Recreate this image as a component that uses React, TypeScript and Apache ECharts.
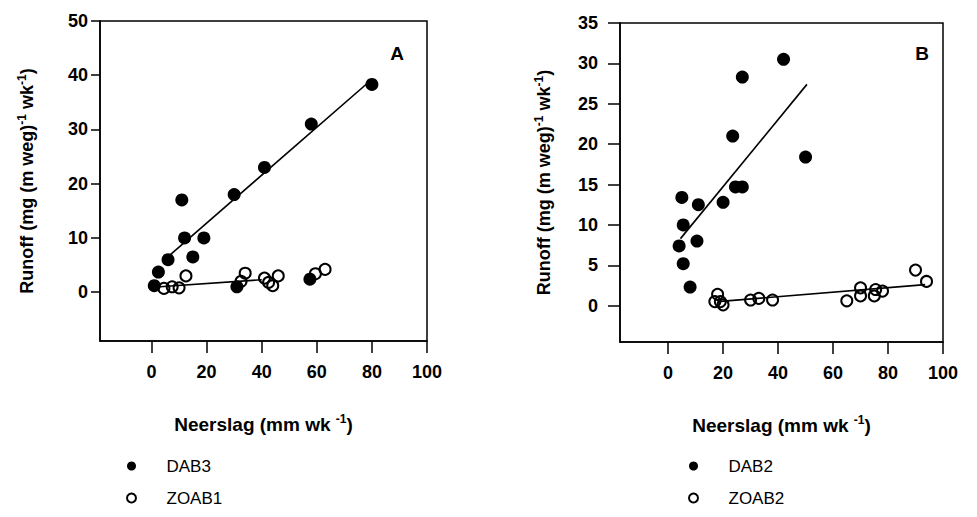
import React, { useEffect, useRef } from 'react';
import * as echarts from 'echarts';

// ---- tick labels ----
const xTicks = [0, 20, 40, 60, 80, 100];
const yTicksA = [0, 10, 20, 30, 40, 50];
const yTicksB = [0, 5, 10, 15, 20, 25, 30, 35];

// ---- panel A ----
const dab3X = [1, 2.5, 6, 11, 12, 15, 19, 30, 31, 41, 57.5, 58, 80];
const dab3Y = [1.2, 3.7, 6.0, 17, 10, 6.5, 10, 18, 1.0, 23, 2.4, 31, 38.3];
const zoab1X = [4.5, 7.5, 10, 12.5, 32.5, 34, 41, 42.5, 44, 46, 59.5, 63];
const zoab1Y = [0.7, 1.0, 0.8, 3.0, 2.0, 3.5, 2.6, 1.8, 1.2, 3.0, 3.4, 4.2];
const fitDab3X = [5, 79];
const fitDab3Y = [6.1, 38.8];
const fitZoab1X = [3, 40];
const fitZoab1Y = [1.0, 2.3];

// ---- panel B ----
const dab2X = [4, 5, 5.5, 5.5, 8, 10.5, 11, 20, 23.5, 24.5, 27, 27, 42, 50];
const dab2Y = [7.4, 13.4, 10, 5.2, 2.3, 8, 12.5, 12.8, 21, 14.7, 14.7, 28.3, 30.5, 18.4];
const zoab2X = [17, 18, 19, 20, 30, 33, 38, 65, 70, 70, 75, 75.5, 78, 90, 94];
const zoab2Y = [0.5, 1.4, 0.5, 0.1, 0.7, 0.9, 0.7, 0.6, 2.2, 1.2, 1.2, 2.0, 1.8, 4.4, 3.0];
const fitDab2X = [4.5, 50.5];
const fitDab2Y = [8.3, 27.4];
const fitZoab2X = [18, 93.5];
const fitZoab2Y = [0.5, 2.6];

const zip = (xs: number[], ys: number[]) => xs.map((x, i) => [x, ys[i]]);

const FONT = "'Liberation Sans', Arial, Helvetica, sans-serif";

const richTitle = (size: number) => ({
  t: { fontSize: size, fontWeight: 'bold', fontFamily: FONT, color: '#000', lineHeight: size + 4 },
  s: { fontSize: 12, fontWeight: 'bold', fontFamily: FONT, color: '#000', lineHeight: 12, verticalAlign: 'top' },
});

function xAxisCfg(gridIndex: number, min: number) {
  return {
    type: 'value',
    gridIndex,
    min,
    max: 100,
    name: '{t|Neerslag (mm wk }{s|-1}{t|)}',
    nameLocation: 'middle',
    nameGap: 72,
    nameTextStyle: { rich: richTitle(19) },
    axisLine: { show: true, onZero: false, lineStyle: { color: '#000', width: 1.5 } },
    axisTick: { show: true, inside: false, length: 12, lineStyle: { color: '#000', width: 1.5 }, customValues: xTicks },
    axisLabel: {
      customValues: xTicks,
      margin: 22,
      fontSize: 18,
      fontWeight: 'bold',
      fontFamily: FONT,
      color: '#000',
    },
    splitLine: { show: false },
  };
}

function yAxisCfg(gridIndex: number, min: number, max: number, ticks: number[], tickLen: number, margin: number, gap: number) {
  return {
    type: 'value',
    gridIndex,
    min,
    max,
    name: '{t|Runoff (mg (m weg)}{s|-1}{t| wk}{s|-1}{t|)}',
    nameLocation: 'middle',
    nameRotate: 90,
    nameGap: gap,
    nameTextStyle: { rich: richTitle(18) },
    axisLine: { show: true, onZero: false, lineStyle: { color: '#000', width: 1.5 } },
    axisTick: { show: true, inside: false, length: tickLen, lineStyle: { color: '#000', width: 1.5 }, customValues: ticks },
    axisLabel: {
      customValues: ticks,
      margin,
      fontSize: 18,
      fontWeight: 'bold',
      fontFamily: FONT,
      color: '#000',
    },
    splitLine: { show: false },
  };
}

const filled = (name: string, xs: number[], ys: number[], idx: number) => ({
  name,
  type: 'scatter',
  xAxisIndex: idx,
  yAxisIndex: idx,
  data: zip(xs, ys),
  symbol: 'circle',
  symbolSize: 13,
  itemStyle: { color: '#000', opacity: 1 },
  z: 4,
});

const open = (name: string, xs: number[], ys: number[], idx: number) => ({
  name,
  type: 'scatter',
  xAxisIndex: idx,
  yAxisIndex: idx,
  data: zip(xs, ys),
  symbol: 'circle',
  symbolSize: 11,
  itemStyle: { color: 'rgba(255,255,255,0)', borderColor: '#000', borderWidth: 2, opacity: 1 },
  z: 5,
});

const fit = (name: string, xs: number[], ys: number[], idx: number) => ({
  name,
  type: 'line',
  xAxisIndex: idx,
  yAxisIndex: idx,
  data: zip(xs, ys),
  symbol: 'none',
  silent: true,
  lineStyle: { color: '#000', width: 1.6 },
  z: 3,
});

const legendCfg = (left: number, names: string[]) => ({
  data: names,
  orient: 'vertical',
  left,
  top: 451,
  itemWidth: 60,
  itemHeight: 9,
  itemGap: 12,
  selectedMode: false,
  textStyle: { fontSize: 17, fontFamily: FONT, color: '#000', lineHeight: 20 },
});

export default function App() {
  const ref = useRef<HTMLDivElement>(null);

  useEffect(() => {
    if (!ref.current) return;
    const chart = echarts.init(ref.current, null, { renderer: 'svg' });
    chart.setOption({
      animation: false,
      backgroundColor: '#fff',
      grid: [
        { left: 100, top: 21, width: 327, height: 320, show: true, borderColor: '#000', borderWidth: 1.5, backgroundColor: 'transparent' },
        { left: 620, top: 23, width: 323, height: 319, show: true, borderColor: '#000', borderWidth: 1.5, backgroundColor: 'transparent' },
      ],
      xAxis: [xAxisCfg(0, -18.7), xAxisCfg(1, -17.5)],
      yAxis: [
        yAxisCfg(0, -9, 50, yTicksA, 9, 12, 62),
        yAxisCfg(1, -4.5, 35, yTicksB, 12, 22, 65),
      ],
      legend: [legendCfg(121, ['DAB3', 'ZOAB1']), legendCfg(683, ['DAB2', 'ZOAB2'])],
      graphic: [
        { type: 'text', x: 397, y: 53, style: { text: 'A', fontSize: 19, fontWeight: 'bold', fontFamily: FONT, fill: '#000', textAlign: 'center', textVerticalAlign: 'middle' } },
        { type: 'text', x: 922, y: 53, style: { text: 'B', fontSize: 19, fontWeight: 'bold', fontFamily: FONT, fill: '#000', textAlign: 'center', textVerticalAlign: 'middle' } },
      ],
      series: [
        fit('DAB3 fit', fitDab3X, fitDab3Y, 0),
        fit('ZOAB1 fit', fitZoab1X, fitZoab1Y, 0),
        filled('DAB3', dab3X, dab3Y, 0),
        open('ZOAB1', zoab1X, zoab1Y, 0),
        fit('DAB2 fit', fitDab2X, fitDab2Y, 1),
        fit('ZOAB2 fit', fitZoab2X, fitZoab2Y, 1),
        filled('DAB2', dab2X, dab2Y, 1),
        open('ZOAB2', zoab2X, zoab2Y, 1),
      ],
    });
    return () => chart.dispose();
  }, []);

  return (
    <div
      ref={ref}
      style={{ position: 'fixed', left: 0, top: 0, width: 977, height: 517, background: '#fff' }}
    />
  );
}
